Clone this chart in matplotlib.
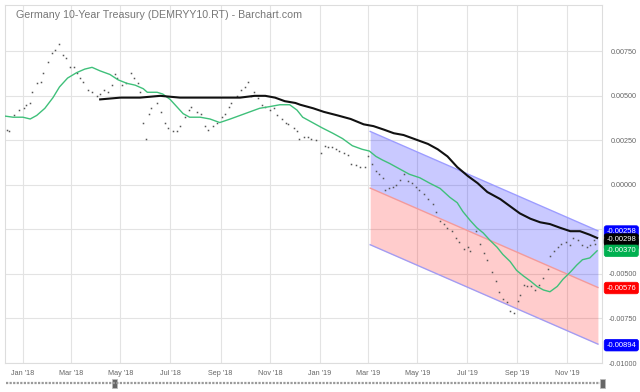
import datetime as DT
import matplotlib
matplotlib.use("Agg")
import matplotlib.pyplot as plt
import matplotlib.dates as mdates
from matplotlib.ticker import FuncFormatter
from matplotlib.patches import Rectangle
from matplotlib.lines import Line2D
import pandas as pd

TITLE = "Germany 10-Year Treasury (DEMRYY10.RT) - Barchart.com"

# daily-ish yield readings (decimal)
price_dates = [
  "2017-12-12", "2017-12-15", "2017-12-21", "2017-12-27", "2018-01-02", "2018-01-05",
  "2018-01-10", "2018-01-12", "2018-01-18", "2018-01-23", "2018-01-26", "2018-02-01",
  "2018-02-06", "2018-02-09", "2018-02-15", "2018-02-19", "2018-02-23", "2018-02-28",
  "2018-03-05", "2018-03-08", "2018-03-12", "2018-03-16", "2018-03-22", "2018-03-27",
  "2018-04-02", "2018-04-06", "2018-04-11", "2018-04-16", "2018-04-20", "2018-04-24",
  "2018-04-27", "2018-05-03", "2018-05-08", "2018-05-14", "2018-05-18", "2018-05-22",
  "2018-05-25", "2018-05-29", "2018-06-01", "2018-06-05", "2018-06-08", "2018-06-15",
  "2018-06-20", "2018-06-25", "2018-06-29", "2018-07-05", "2018-07-09", "2018-07-13",
  "2018-07-19", "2018-07-24", "2018-07-27", "2018-08-03", "2018-08-08", "2018-08-13",
  "2018-08-17", "2018-08-23", "2018-08-28", "2018-09-03", "2018-09-06", "2018-09-11",
  "2018-09-14", "2018-09-21", "2018-09-26", "2018-10-01", "2018-10-05", "2018-10-08",
  "2018-10-12", "2018-10-17", "2018-10-22", "2018-10-26", "2018-11-01", "2018-11-06",
  "2018-11-09", "2018-11-16", "2018-11-20", "2018-11-23", "2018-11-30", "2018-12-04",
  "2018-12-07", "2018-12-13", "2018-12-18", "2018-12-21", "2018-12-27", "2019-01-02",
  "2019-01-07", "2019-01-11", "2019-01-16", "2019-01-21", "2019-01-25", "2019-01-31",
  "2019-02-05", "2019-02-08", "2019-02-15", "2019-02-20", "2019-02-25", "2019-03-01",
  "2019-03-06", "2019-03-11", "2019-03-15", "2019-03-20", "2019-03-22", "2019-03-27",
  "2019-04-01", "2019-04-05", "2019-04-10", "2019-04-15", "2019-04-19", "2019-04-24",
  "2019-04-29", "2019-05-03", "2019-05-09", "2019-05-14", "2019-05-20", "2019-05-24",
  "2019-05-29", "2019-06-03", "2019-06-07", "2019-06-13", "2019-06-18", "2019-06-21",
  "2019-06-27", "2019-07-02", "2019-07-05", "2019-07-12", "2019-07-17", "2019-07-22",
  "2019-07-26", "2019-08-01", "2019-08-06", "2019-08-09", "2019-08-14", "2019-08-19",
  "2019-08-23", "2019-08-28", "2019-09-02", "2019-09-04", "2019-09-09", "2019-09-13",
  "2019-09-18", "2019-09-23", "2019-09-27", "2019-10-03", "2019-10-08", "2019-10-11",
  "2019-10-16", "2019-10-21", "2019-10-25", "2019-10-31", "2019-11-05", "2019-11-08",
  "2019-11-15", "2019-11-20", "2019-11-25", "2019-11-29", "2019-12-04", "2019-12-06",
]
price_vals = [
  0.0031, 0.0030, 0.0039, 0.0042, 0.0043, 0.0045,
  0.0046, 0.0052, 0.0057, 0.0058, 0.0063, 0.0069,
  0.0074, 0.0076, 0.0079, 0.0073, 0.0071, 0.0066,
  0.0066, 0.0063, 0.0060, 0.0058, 0.0053, 0.0052,
  0.0050, 0.0051, 0.0053, 0.0052, 0.0056, 0.0062,
  0.0060, 0.0056, 0.0057, 0.0063, 0.0060, 0.0057,
  0.0052, 0.0035, 0.0026, 0.0040, 0.0043, 0.0046,
  0.0041, 0.0035, 0.0032, 0.0030, 0.0030, 0.0033,
  0.0038, 0.0042, 0.0044, 0.0041, 0.0040, 0.0033,
  0.0031, 0.0033, 0.0035, 0.0038, 0.0040, 0.0044,
  0.0046, 0.0050, 0.0053, 0.0055, 0.0058, 0.0050,
  0.0052, 0.0049, 0.0045, 0.0044, 0.0042, 0.0043,
  0.0039, 0.0037, 0.0035, 0.0034, 0.0032, 0.0030,
  0.0026, 0.0027, 0.0027, 0.0026, 0.0025, 0.0018,
  0.0022, 0.0021, 0.0021, 0.0020, 0.0019, 0.0018,
  0.0017, 0.0012, 0.0011, 0.0010, 0.0010, 0.0016,
  0.0012, 0.0008, 0.0006, 0.0004, -0.0003, -0.0002,
  -0.0001, 0.0000, 0.0003, 0.0006, 0.0002, 0.0001,
  -0.0001, -0.0003, -0.0005, -0.0008, -0.0011, -0.0015,
  -0.0020, -0.0022, -0.0024, -0.0026, -0.0030, -0.0032,
  -0.0036, -0.0035, -0.0037, -0.0026, -0.0033, -0.0038,
  -0.0042, -0.0049, -0.0054, -0.0060, -0.0064, -0.0066,
  -0.0071, -0.0072, -0.0065, -0.0062, -0.0056, -0.0057,
  -0.0057, -0.0059, -0.0056, -0.0052, -0.0047, -0.0040,
  -0.0037, -0.0035, -0.0033, -0.0032, -0.0034, -0.0030,
  -0.0031, -0.0034, -0.0035, -0.0034, -0.0031, -0.0033,
]

# short moving average (green)
ma_short_dates = [
  "2017-12-04", "2017-12-20", "2018-01-01", "2018-01-10", "2018-01-18", "2018-01-28",
  "2018-02-07", "2018-02-15", "2018-02-25", "2018-03-08", "2018-03-18", "2018-03-27",
  "2018-04-06", "2018-04-18", "2018-04-28", "2018-05-09", "2018-05-19", "2018-05-29",
  "2018-06-03", "2018-06-15", "2018-06-22", "2018-07-01", "2018-07-09", "2018-07-17",
  "2018-07-25", "2018-08-07", "2018-08-19", "2018-08-31", "2018-09-13", "2018-09-25",
  "2018-10-07", "2018-10-19", "2018-11-01", "2018-11-13", "2018-11-25", "2018-12-04",
  "2018-12-11", "2018-12-23", "2019-01-04", "2019-01-17", "2019-01-29", "2019-02-10",
  "2019-02-22", "2019-03-03", "2019-03-11", "2019-03-19", "2019-03-28", "2019-04-09",
  "2019-04-21", "2019-05-04", "2019-05-16", "2019-05-29", "2019-06-10", "2019-06-19",
  "2019-06-26", "2019-07-05", "2019-07-13", "2019-07-21", "2019-07-29", "2019-08-07",
  "2019-08-14", "2019-08-23", "2019-08-31", "2019-09-08", "2019-09-17", "2019-09-25",
  "2019-10-03", "2019-10-11", "2019-10-20", "2019-10-27", "2019-11-05", "2019-11-13",
  "2019-11-20", "2019-11-29", "2019-12-08",
]
ma_short_vals = [
  0.0039, 0.0038, 0.0038, 0.0037, 0.0039, 0.0043,
  0.0049, 0.0055, 0.0060, 0.0063, 0.0065, 0.0066,
  0.0064, 0.0062, 0.0059, 0.0057, 0.0056, 0.0054,
  0.0052, 0.0052, 0.0051, 0.0048, 0.0044, 0.0040,
  0.0038, 0.0038, 0.0037, 0.0035, 0.0037, 0.0039,
  0.0041, 0.0043, 0.0044, 0.0045, 0.0045, 0.0042,
  0.0038, 0.0035, 0.0032, 0.0029, 0.0026, 0.0022,
  0.0020, 0.0019, 0.0016, 0.0014, 0.0012, 0.0009,
  0.0006, 0.0004, 0.0001, -0.0002, -0.0007, -0.0010,
  -0.0015, -0.0020, -0.0024, -0.0027, -0.0031, -0.0035,
  -0.0039, -0.0043, -0.0048, -0.0051, -0.0054, -0.0057,
  -0.0059, -0.0060, -0.0057, -0.0053, -0.0049, -0.0045,
  -0.0042, -0.0041, -0.0037,
]

# long moving average (black)
ma_long_dates = [
  "2018-04-06", "2018-05-01", "2018-05-25", "2018-06-19", "2018-07-13", "2018-08-07",
  "2018-08-31", "2018-09-25", "2018-10-13", "2018-10-26", "2018-11-07", "2018-11-19",
  "2018-12-02", "2018-12-08", "2018-12-24", "2019-01-06", "2019-01-23", "2019-02-08",
  "2019-02-24", "2019-03-08", "2019-03-21", "2019-04-02", "2019-04-14", "2019-04-26",
  "2019-05-14", "2019-05-26", "2019-06-07", "2019-06-19", "2019-07-02", "2019-07-14",
  "2019-07-26", "2019-08-11", "2019-08-23", "2019-09-04", "2019-09-17", "2019-09-29",
  "2019-10-11", "2019-10-23", "2019-11-05", "2019-11-17", "2019-11-29", "2019-12-08",
]
ma_long_vals = [
  0.0048, 0.0049, 0.0049, 0.0050, 0.0049, 0.0049,
  0.0049, 0.0049, 0.0050, 0.0050, 0.0049, 0.0047,
  0.0046, 0.0045, 0.0043, 0.0041, 0.0039, 0.0037,
  0.0034, 0.0033, 0.0031, 0.0029, 0.0028, 0.0026,
  0.0023, 0.0020, 0.0016, 0.0010, 0.0005, 0.0001,
  -0.0004, -0.0008, -0.0012, -0.0016, -0.0019, -0.0021,
  -0.0022, -0.0024, -0.0026, -0.0026, -0.0028, -0.00298,
]

# regression channel (start, end)
chan_dates = ["2019-03-04", "2019-12-09"]
chan_upper = [0.0030, -0.00258]
chan_mid = [-0.00018, -0.00576]
chan_lower = [-0.00336, -0.00894]

# right-hand value tags: (value, text, colour)
tag_vals = [-0.00262, -0.00330, -0.00307, -0.00370, -0.00579, -0.00900]
tag_texts = ["-0.00258", "-0.00329", "-0.00298", "-0.00370", "-0.00576", "-0.00894"]
tag_colors = ["#0000ff", "#333333", "#000000", "#00b050", "#ff0000", "#0000ff"]

yticks = [0.0075, 0.005, 0.0025, 0.0, -0.0025, -0.005, -0.0075, -0.01]
xtick_dates = ["2018-01-01", "2018-03-01", "2018-05-01", "2018-07-01", "2018-09-01",
               "2018-11-01", "2019-01-01", "2019-03-01", "2019-05-01", "2019-07-01",
               "2019-09-01", "2019-11-01"]


def draw():
  plt.rcParams["font.family"] = ["Liberation Sans", "DejaVu Sans"]
  fig = plt.figure(figsize=(6.4, 3.92), dpi=100)
  ax = fig.add_axes([5/640, 1-363/392, 597/640, 358/392])

  grid_c = "#e3e3e3"
  for s in ax.spines.values():
    s.set_color("#dddddd")
    s.set_linewidth(0.8)

  # channel
  cd = pd.to_datetime(chan_dates)
  ax.fill_between(cd, chan_mid, chan_upper, color=(0, 0, 1), alpha=0.21, lw=0, zorder=1)
  ax.fill_between(cd, chan_lower, chan_mid, color=(1, 0, 0), alpha=0.2, lw=0, zorder=1)
  ax.plot(cd, chan_upper, color="#9c9cff", lw=1, zorder=1.5)
  ax.plot(cd, chan_mid, color="#f49a9a", lw=1, zorder=1.5)
  ax.plot(cd, chan_lower, color="#a39cf2", lw=1, zorder=1.5)

  # price dots
  ax.plot(pd.to_datetime(price_dates), price_vals, ls="none", marker="s", ms=1.1,
          mew=0, color="#555555", zorder=2)

  ax.plot(pd.to_datetime(ma_short_dates), ma_short_vals, color="#3fc07a", lw=1.0, zorder=3)
  ax.plot(pd.to_datetime(ma_long_dates), ma_long_vals, color="#111111", lw=1.5, zorder=3)

  ax.set_xlim(DT.datetime(2017, 12, 10), DT.datetime(2019, 12, 14))
  ax.set_ylim(-0.0100, 0.0101)

  ax.set_xticks(pd.to_datetime(xtick_dates))
  ax.xaxis.set_major_formatter(mdates.DateFormatter("%b '%y"))
  ax.set_yticks(yticks)
  ax.yaxis.set_major_formatter(FuncFormatter(lambda v, p: "{:.5f}".format(v)))
  ax.yaxis.tick_right()
  ax.tick_params(axis="x", length=0, pad=5, labelsize=5.2, labelcolor="#666666")
  ax.tick_params(axis="y", length=0, pad=25, labelsize=5.2, labelcolor="#666666")
  plt.setp(ax.get_yticklabels(), ha="right")
  ax.grid(True, color=grid_c, lw=0.8, zorder=0)
  ax.set_axisbelow(True)

  ax.text(0.018, 0.972, TITLE, transform=ax.transAxes, fontsize=7.7,
          color="#777777", va="center", ha="left")

  # value tags on the right
  for v, t, c in zip(tag_vals, tag_texts, tag_colors):
    ax.text(1.0075, v, t, transform=ax.get_yaxis_transform(), fontsize=5.5,
            color="white", va="center", ha="left", clip_on=False, zorder=5,
            bbox=dict(boxstyle="round,pad=0.3,rounding_size=0.3", fc=c, ec=c, lw=0.5))

  # scroll bar under the chart
  fig.add_artist(Line2D([6/640, 600/640], [1-383/392, 1-383/392], color="#9a9a9a",
                        lw=1.6, ls=(0, (1, 0.6))))
  for hx in [114, 602]:
    fig.add_artist(Rectangle(((hx-2.5)/640, 1-387.5/392), 5/640, 9/392,
                             fc="#666666", ec="#bbbbbb", lw=0.6))

  fig.savefig("out.png", dpi=100)


if __name__ == "__main__":
  draw()
